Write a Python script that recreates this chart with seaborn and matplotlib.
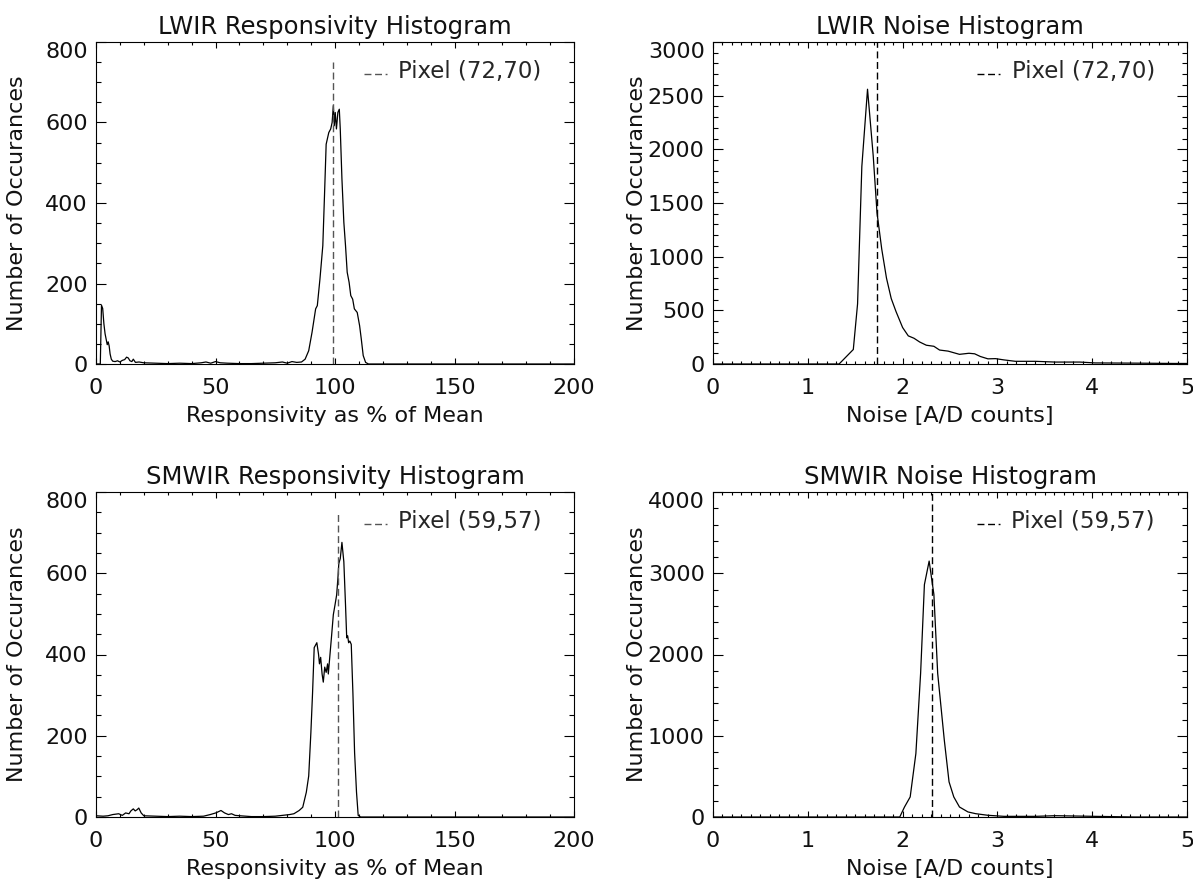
import numpy as np
import pandas as pd
import matplotlib
matplotlib.use("Agg")
import matplotlib.pyplot as plt
import seaborn as sns
from matplotlib.ticker import MultipleLocator
from matplotlib.legend_handler import HandlerLine2D

# ---------------- data ----------------
lwir_resp_x = [0, 1.0, 1.8, 2.3, 2.8, 3.3, 3.8, 4.3, 4.7, 5.1, 5.5, 5.9, 6.4, 7.0, 8.0, 9.0,
               10.0, 11.0, 12.0, 12.8, 13.5, 14.2, 15.0, 15.6, 16.5, 18, 20,
               25, 30, 35, 40, 44, 46, 48, 50, 52, 55, 60, 65, 70, 75, 78, 80, 82, 84,
               86, 87.5, 89.0, 90.4, 91.9, 92.6, 93.7, 94.9, 95.6, 96.3, 97.4, 98.2, 98.8,
               99.3, 99.7, 100.1, 100.6, 101.2, 101.8, 102.2, 102.9, 103.7, 104.4, 105.1,
               105.9, 106.6, 107.4, 108.1, 109.3, 110.3, 111.0, 111.8, 112.8, 114,
               120, 140, 160, 180, 200]
lwir_resp_y = [0, 0, 0, 146, 138, 100, 75, 60, 48, 55, 45, 25, 12, 7, 6, 8,
               5, 9, 11, 17, 15, 8, 6, 12, 4, 5, 3,
               2, 1, 2, 1, 3, 5, 2, 6, 3, 2, 1, 1, 2, 3, 5, 2, 6, 4,
               5, 12, 33, 79, 137, 145, 211, 294, 418, 546, 575, 584, 600,
               642, 592, 625, 584, 625, 633, 584, 460, 352, 294, 228,
               203, 170, 161, 137, 128, 95, 62, 21, 4, 0,
               0, 0, 0, 0, 0]

smwir_resp_x = [0, 3, 5, 7, 9.5, 11, 12.4, 13.8, 14.6, 15.6, 16.4, 17.2, 17.9, 18.9, 20,
                25, 30, 35, 40, 45, 47.8, 50.1, 52.3, 53.8, 55.4, 56.7, 58.2, 60.3,
                65, 70, 75, 78, 81, 82.8, 85.0, 86.5, 88.0, 89.0, 89.9, 90.6, 91.3,
                92.4, 93.1, 93.5, 94.0, 94.6, 95.1, 95.7, 96.3, 96.9, 97.2, 97.8,
                98.5, 99.3, 100.0, 100.7, 101.2, 101.6, 102.2, 102.9, 103.7, 104.4,
                104.9, 105.3, 105.7, 106.2, 106.8, 107.5, 108.2, 109.0, 109.7, 110.7,
                120, 140, 160, 180, 200]
smwir_resp_y = [3, 2, 3, 6, 8, 4, 10, 8, 15, 20, 15, 18, 22, 10, 3,
                2, 1, 2, 1, 2, 6, 10, 16, 10, 6, 8, 4, 3,
                1, 1, 2, 4, 6, 8, 16, 24, 61, 101, 207, 304, 417,
                429, 401, 377, 393, 352, 332, 369, 356, 377, 352, 393,
                441, 498, 522, 547, 587, 624, 636, 676, 628, 522,
                441, 446, 429, 433, 425, 304, 158, 61, 4, 0,
                0, 0, 0, 0, 0]

lwir_noise_x = [0, 0.5, 1.0, 1.33, 1.48, 1.525, 1.57, 1.63, 1.69, 1.73, 1.78, 1.83, 1.88,
                1.93, 2.0, 2.06, 2.12, 2.18, 2.25, 2.33, 2.39, 2.48, 2.6, 2.7, 2.76, 2.82,
                2.9, 2.98, 3.07, 3.19, 3.4, 3.61, 3.87, 4.03, 4.45, 4.87, 5.0]
lwir_noise_y = [0, 0, 0, 0, 135, 560, 1840, 2560, 1940, 1410, 1070, 800, 610,
                490, 340, 262, 240, 205, 175, 165, 130, 120, 90, 100, 95, 70,
                48, 50, 38, 25, 25, 18, 18, 10, 8, 5, 5]

smwir_noise_x = [0, 1.0, 1.97, 2.02, 2.08, 2.14, 2.19, 2.23, 2.28, 2.33, 2.37, 2.44, 2.49,
                 2.54, 2.6, 2.69, 2.77, 2.9, 3.07, 3.4, 3.61, 4.03, 4.45, 5.0]
smwir_noise_y = [0, 0, 0, 123, 247, 781, 1768, 2860, 3150, 2740, 1768, 945, 432,
                 247, 123, 62, 41, 21, 8, 8, 16, 8, 0, 0]

titles = ["LWIR Responsivity Histogram", "LWIR Noise Histogram",
          "SMWIR Responsivity Histogram", "SMWIR Noise Histogram"]
xlabels = ["Responsivity as % of Mean", "Noise [A/D counts]",
           "Responsivity as % of Mean", "Noise [A/D counts]"]
ylabel = "Number of Occurances"
legend_labels = ["Pixel (72,70)", "Pixel (72,70)", "Pixel (59,57)", "Pixel (59,57)"]
pixel_values = [99.0, 1.73, 101.4, 2.31]
pixel_line_tops = [750, None, 750, None]
xlims = [(0, 200), (0, 5), (0, 200), (0, 5)]
ylims = [(0, 800), (0, 3000), (0, 800), (0, 4000)]
x_major = [50, 1, 50, 1]
x_minor = [10, 0.1, 10, 0.1]
y_major = [200, 500, 200, 1000]
y_minor = [50, 100, 50, 200]

series = [(lwir_resp_x, lwir_resp_y), (lwir_noise_x, lwir_noise_y),
          (smwir_resp_x, smwir_resp_y), (smwir_noise_x, smwir_noise_y)]


class LowLineHandler(HandlerLine2D):
    """Legend line drawn a little below the text centre (like '_ _')."""
    def create_artists(self, legend, orig_handle, xdescent, ydescent, width,
                       height, fontsize, trans):
        return super().create_artists(legend, orig_handle, xdescent,
                                      ydescent + 0.55 * height, width, height,
                                      fontsize, trans)


# ---------------- styling ----------------
sns.set_theme(style="ticks")
plt.rcParams['font.family'] = ['DejaVu Sans']
plt.rcParams['axes.edgecolor'] = 'black'
plt.rcParams['axes.linewidth'] = 0.8

W, H = 1193, 884
fig = plt.figure(figsize=(W / 100, H / 100), dpi=100)
fig.patch.set_facecolor('white')

# axes boxes in pixels: (left, right, top, bottom)
boxes = [(96, 574, 42, 364), (713, 1187, 42, 364),
         (96, 574, 492, 817), (713, 1187, 492, 817)]
line_colors = ['#555555', 'black', '#555555', 'black']
TXT = '#111111'
FS_TICK = 16
FS_LAB = 16
FS_TITLE = 17.5

for i in range(4):
    l, r, t, b = boxes[i]
    ax = fig.add_axes([l / W, 1 - b / H, (r - l) / W, (b - t) / H])
    ax.set_facecolor('white')
    xs, ys = series[i]
    df = pd.DataFrame({"x": xs, "y": ys})
    sns.lineplot(data=df, x="x", y="y", ax=ax, color='black', linewidth=0.9,
                 estimator=None, sort=False)
    ylo, yhi = ylims[i]
    top = pixel_line_tops[i]
    ymax = 1.0 if top is None else (top - ylo) / (yhi - ylo)
    vl = ax.axvline(pixel_values[i], ymin=0, ymax=ymax, color=line_colors[i],
                    linewidth=1.0, linestyle=(0, (5, 2.6)), label=legend_labels[i])
    ax.set_xlim(*xlims[i])
    ax.set_ylim(ylo, yhi)
    ax.xaxis.set_major_locator(MultipleLocator(x_major[i]))
    ax.xaxis.set_minor_locator(MultipleLocator(x_minor[i]))
    ax.yaxis.set_major_locator(MultipleLocator(y_major[i]))
    ax.yaxis.set_minor_locator(MultipleLocator(y_minor[i]))
    ax.tick_params(axis='both', which='both', direction='in', top=True, right=True,
                   colors='black', labelcolor=TXT, width=0.8)
    ax.tick_params(axis='x', which='major', length=4.6, pad=10, labelsize=FS_TICK)
    ax.tick_params(axis='x', which='minor', length=2.3)
    ax.tick_params(axis='y', which='major', length=6.9, pad=6, labelsize=FS_TICK)
    ax.tick_params(axis='y', which='minor', length=3.4)
    for sp in ax.spines.values():
        sp.set_visible(True)
        sp.set_color('black')
        sp.set_linewidth(0.8)
    ax.set_title(titles[i], fontsize=FS_TITLE, pad=6, color=TXT)
    ax.set_xlabel(xlabels[i], fontsize=FS_LAB, color=TXT)
    ax.set_ylabel(ylabel, fontsize=FS_LAB, color=TXT)
    ax.xaxis.set_label_coords(0.5, -0.13)
    ax.yaxis.set_label_coords(-0.145 if i % 2 == 0 else -0.14, 0.5)
    # the top y label is kept inside the box, as in the reference
    fig.canvas.draw()
    for tk in ax.yaxis.get_major_ticks():
        if np.isclose(tk.get_loc(), yhi):
            tk.label1.set_va('top')
    ax.legend(handles=[vl], labels=[legend_labels[i]],
              handler_map={vl: LowLineHandler()},
              loc='center right', bbox_to_anchor=(0.932, 0.909), frameon=False,
              fontsize=16.5, handlelength=1.0, handletextpad=0.5,
              borderpad=0, borderaxespad=0)

fig.savefig("out.png", dpi=100, facecolor='white')
